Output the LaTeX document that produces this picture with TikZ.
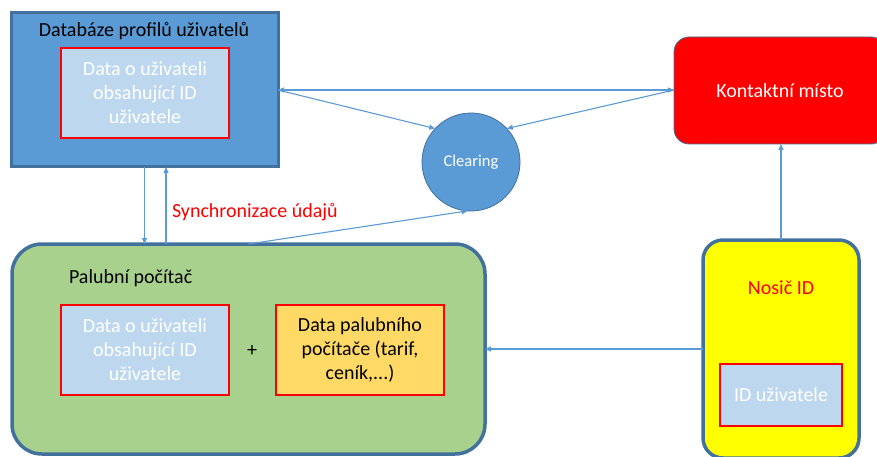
\documentclass[tikz,border=0pt]{standalone}
\usepackage{fontspec}
\setmainfont{Carlito}
\usetikzlibrary{arrows.meta,calc}
\definecolor{midblue}{HTML}{5B9BD5}
\definecolor{darkblue}{HTML}{41719C}
\definecolor{lightblue}{HTML}{BDD7EE}
\definecolor{leafgreen}{HTML}{A9D18E}
\definecolor{goldbox}{HTML}{FFD966}
\definecolor{pureRed}{HTML}{FF0000}
\definecolor{pureYellow}{HTML}{FFFF00}
\begin{document}
\begin{tikzpicture}[x=1pt,y=-1pt,
  every node/.style={inner sep=0pt,outer sep=0pt,font=\fontsize{20}{24}\selectfont},
  bigbox/.style={draw=darkblue,line width=3.5pt},
  datbox/.style={draw=pureRed,line width=2.5pt,fill=lightblue,text=white,align=center},
  conn/.style={draw=midblue,line width=1.1pt,-{Triangle[length=6pt,width=5pt]}},
  conn2/.style={draw=midblue,line width=1.1pt,{Triangle[length=6pt,width=5pt]}-{Triangle[length=6pt,width=5pt]}}
]
\useasboundingbox (0,0) rectangle (877,457);
% Database
\node[bigbox,line width=3pt,fill=midblue,minimum width=267pt,minimum height=154pt] (db) at (144.5,90) {};
\node (dbt) at (144,31) {Databáze profilů uživatelů};
\node[datbox,minimum width=168pt,minimum height=90pt] (dbd) at (145,93) {Data o uživateli\\obsahující ID\\uživatele};
% Clearing
\node[circle,draw=darkblue,line width=0.8pt,fill=midblue,minimum size=98pt,text=white,font=\fontsize{16.5}{19}\selectfont] (cl) at (471,162) {Clearing};
% Kontaktni misto
\node[draw=darkblue,line width=0.8pt,fill=pureRed,rounded corners=15pt,minimum width=212pt,minimum height=107pt] (km) at (780,90.5) {};
\node[text=white] (kmt) at (780,91) {Kontaktní místo};
% Palubni pocitac
\node[bigbox,fill=leafgreen,rounded corners=30pt,minimum width=473pt,minimum height=210pt] (pc) at (248.5,349) {};
\node[anchor=west] (pct) at (69,278) {Palubní počítač};
\node[datbox,minimum width=168pt,minimum height=90pt] (pcd) at (145,350) {Data o uživateli\\obsahující ID\\uživatele};
\node (plus) at (252,351) {+};
\node[datbox,fill=goldbox,text=black,minimum width=168pt,minimum height=90pt] (pcp) at (360,350) {Data palubního\\počítače (tarif,\\ceník,...)};
% Nosic ID
\node[bigbox,fill=pureYellow,rounded corners=20pt,minimum width=156pt,minimum height=218pt] (ni) at (781,349) {};
\node[text=pureRed] (nit) at (781,288) {Nosič ID};
\node[datbox,minimum width=122pt,minimum height=62pt] (nid) at (781,395) {ID uživatele};
% Sync label
\node[text=pureRed,anchor=west] (sync) at (172,212) {Synchronizace údajů};
% Connectors
\draw[conn2] (db.east) -- (db.east -| km.west);
\draw[conn] (db.east) -- (cl.137);
\draw[conn] (db.east -| km.west) -- (cl.43);
\draw[conn] (pc.north) -- (cl.266);
\draw[conn] (db.south) -- (db.south |- pc.north);
\draw[conn] ([xshift=21.5pt]db.south |- pc.north) -- ([xshift=21.5pt]db.south);
\draw[conn] (ni.west) -- (ni.west -| pc.east);
\draw[conn] (ni.north) -- (ni.north |- km.south);
\end{tikzpicture}
\end{document}
